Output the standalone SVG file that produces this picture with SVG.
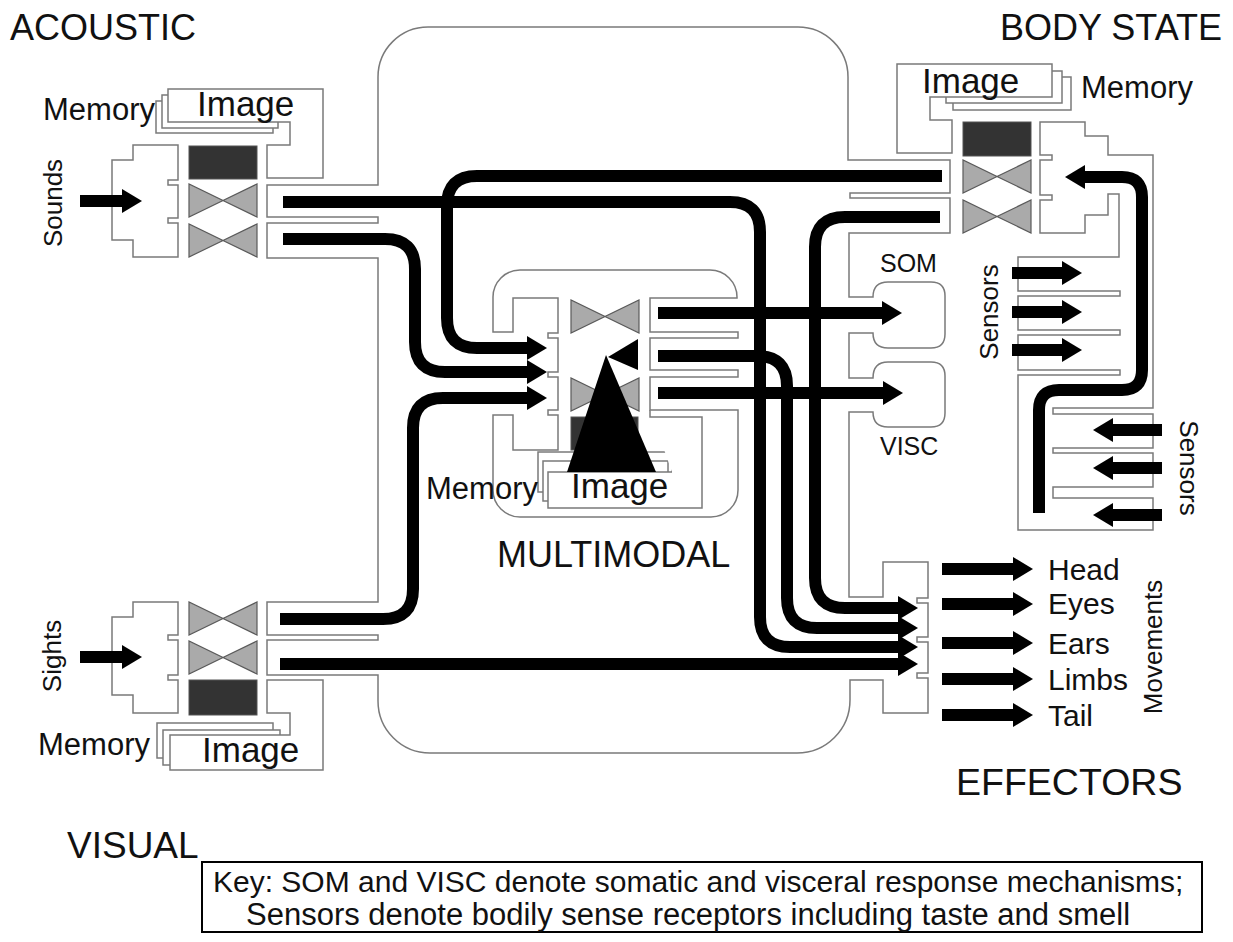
<svg xmlns="http://www.w3.org/2000/svg" width="1233" height="942" viewBox="0 0 1233 942">
<style>
.o{fill:#fff;stroke:#7a7a7a;stroke-width:1.5}
.bt{fill:#aaa;stroke:#5a5a5a;stroke-width:1.2}
.dk{fill:#333;stroke:#555;stroke-width:1}
.w{fill:none;stroke:#000;stroke-width:12;marker-end:url(#ah)}
.t{font-family:"Liberation Sans",Arial,sans-serif;fill:#111}
.big{font-size:36px}
.mem{font-size:31px}
.img{font-size:35px}
.lab{font-size:30px}
.sm{font-size:25px}
.rot{font-size:26px;text-anchor:middle}
</style>
<defs>
<marker id="ah" viewBox="0 0 20 24" refX="1" refY="12" markerWidth="20" markerHeight="24" markerUnits="userSpaceOnUse" orient="auto"><path d="M0,0 L20,12 L0,24 Z" fill="#000"/></marker>
<g id="bowtie"><path class="bt" d="M0,0 L0,33 L34,16.5 Z"/><path class="bt" d="M68,0 L68,33 L34,16.5 Z"/></g>
</defs>
<rect width="1233" height="942" fill="#fff"/>

<g id="outline">
<path class="o" d="M378,185 V77 A50,50 0 0 1 428,27 H798 A50,50 0 0 1 848,77 V160 H950 V193 H850 V198 H950 V233 H849 V297 H873 Q873,282 888,282 H931 Q945,282 945,296 V334 Q945,348 931,348 H888 Q873,348 873,333 H849 V378 H873 Q873,362 888,362 H931 Q945,362 945,376 V413 Q945,427 931,427 H888 Q873,427 873,412 H849 V597 H883 V562 H928 V598 H917 V603 H928 V637 H917 V642 H928 V673 H917 V678 H928 V713 H883 V680 H850 V700 A53,53 0 0 1 797,753 H430 A52,52 0 0 1 378,701 V675 H267 V640 H378 V635 H267 V602 H378 V258 H267 V223 H378 V217 H267 V185 Z"/>
<text class="t sm" x="880" y="272">SOM</text>
<text class="t sm" x="880" y="455">VISC</text>
</g>

<g id="acoustic">
<path class="o" d="M133,145 H178 V180 H168 V185 H178 V218 H168 V223 H178 V257 H133 V240 H112 V160 H133 Z"/>
<rect class="dk" x="189" y="146" width="68" height="33"/>
<use href="#bowtie" x="189" y="184"/>
<use href="#bowtie" x="189" y="224"/>
<rect class="o" x="156" y="101" width="117" height="32"/>
<rect class="o" x="162" y="95" width="116" height="33"/>
<path class="o" d="M168,89 H323 V178 H267 V145 H290 V122 H168 Z"/>
<text class="t img" x="197" y="116">Image</text>
<text class="t mem" x="155" y="120" text-anchor="end">Memory</text>
<text class="t rot" transform="translate(62,203) rotate(-90)">Sounds</text>
<text class="t big" x="10" y="40">ACOUSTIC</text>
</g>

<g id="visual">
<path class="o" d="M133,602 H178 V635 H168 V640 H178 V675 H168 V680 H178 V713 H133 V695 H112 V617 H133 Z"/>
<use href="#bowtie" x="189" y="602"/>
<use href="#bowtie" x="189" y="641"/>
<rect class="dk" x="189" y="680" width="68" height="35"/>
<rect class="o" x="157" y="723" width="116" height="35"/>
<rect class="o" x="163" y="730" width="117" height="35"/>
<path class="o" d="M267,680 H323 V770 H170 V735 H290 V713 H267 Z"/>
<text class="t img" x="202" y="762">Image</text>
<text class="t mem" x="150" y="755" text-anchor="end">Memory</text>
<text class="t rot" transform="translate(61,656) rotate(-90)">Sights</text>
<text class="t big" x="67" y="858" style="font-size:37px">VISUAL</text>
</g>

<g id="bodystate">
<rect class="o" x="953" y="77" width="118" height="33"/>
<rect class="o" x="946" y="71" width="116" height="32"/>
<path class="o" d="M897,64 H1052 V97 H930 V120 H952 V153 H897 Z"/>
<rect class="dk" x="963" y="122" width="68" height="34"/>
<use href="#bowtie" x="963" y="160"/>
<use href="#bowtie" x="963" y="200"/>
<path class="o" d="M1040,122 H1085 V136 H1108 V155 H1153 V408 H1053 V414 H1153 V448 H1053 V453 H1153 V487 H1053 V498 H1153 V530 H1018 V375 H1120 V370 H1018 V335 H1120 V330 H1018 V296 H1120 V291 H1018 V257 H1119 V194 H1108 V215 H1085 V233 H1040 V200 H1052 V195 H1040 V160 H1052 V155 H1040 Z"/>
<text class="t img" x="922" y="93">Image</text>
<text class="t mem" x="1081" y="98">Memory</text>
<text class="t rot" transform="translate(998,312) rotate(-90)">Sensors</text>
<text class="t rot" transform="translate(1180,468) rotate(90)">Sensors</text>
<text class="t big" x="1222" y="40" text-anchor="end">BODY STATE</text>
</g>

<g id="multimodal">
<path class="o" d="M513,298 V332 H493 V297 A27,27 0 0 1 520,270 H710 A27,27 0 0 1 737,297 V298 H650 V332 H738 V338 H650 V370 H738 V377 H650 V410 H738 V490 A27,27 0 0 1 711,517 H520 A27,27 0 0 1 493,490 V415 H513 V450 H558 V415 H548 V410 H558 V377 H548 V372 H558 V338 H548 V333 H558 V298 Z"/>
<use href="#bowtie" x="571" y="300"/>
<use href="#bowtie" x="571" y="378"/>
<rect class="dk" x="571" y="417" width="67" height="33"/>
<rect class="o" x="538" y="452" width="134" height="40"/>
<rect class="o" x="543" y="461" width="125" height="40"/>
<path class="o" d="M650,410 V417 H702 V508 H548 V472 H672"/>
<path d="M638,339 L608,357 L638,370 Z" fill="#000"/>
<path d="M606,355 L567,472 L656,472 Z" fill="#000"/>
<text class="t img" x="571" y="498">Image</text>
<text class="t mem" x="538" y="499" text-anchor="end">Memory</text>
<text class="t big" x="497" y="567">MULTIMODAL</text>
</g>

<g id="effectors">
<text class="t lab" x="1048" y="580">Head</text>
<text class="t lab" x="1048" y="614">Eyes</text>
<text class="t lab" x="1048" y="654">Ears</text>
<text class="t lab" x="1048" y="690">Limbs</text>
<text class="t lab" x="1048" y="726">Tail</text>
<text class="t rot" transform="translate(1162,647) rotate(-90)">Movements</text>
<text class="t big" x="956" y="795" style="font-size:37.5px">EFFECTORS</text>
</g>

<g id="connectors">
<path class="w" d="M80,201 H123"/>
<path class="w" d="M80,657 H123"/>
<path class="w" d="M283,202 H730 Q760,202 760,232 V617 Q760,647 790,647 H899"/>
<path class="w" d="M283,239 H385 Q415,239 415,269 V342 Q415,372 445,372 H528"/>
<path class="w" d="M942,176 H477 Q447,176 447,206 V318 Q447,348 477,348 H528"/>
<path class="w" d="M280,619 H383 Q413,619 413,589 V428 Q413,398 443,398 H528"/>
<path class="w" d="M280,664 H899"/>
<path class="w" d="M940,217 H845 Q815,217 815,247 V578 Q815,608 845,608 H899"/>
<path class="w" d="M658,356 H757 Q787,356 787,386 V598 Q787,628 817,628 H899"/>
<path class="w" d="M658,313 H883"/>
<path class="w" d="M658,393 H884"/>
<path class="w" d="M1039,513 V410 Q1039,390 1059,390 H1122 Q1142,390 1142,370 V197 Q1142,177 1122,177 H1084"/>
<path class="w" d="M1012,273 H1063"/>
<path class="w" d="M1012,312 H1063"/>
<path class="w" d="M1012,350 H1063"/>
<path class="w" d="M1162,430 H1112"/>
<path class="w" d="M1162,468 H1112"/>
<path class="w" d="M1162,515 H1112"/>
<path class="w" d="M942,569 H1014"/>
<path class="w" d="M942,604 H1014"/>
<path class="w" d="M942,643 H1014"/>
<path class="w" d="M942,679 H1014"/>
<path class="w" d="M942,715 H1014"/>
</g>

<g id="key">
<rect x="202" y="862" width="1000" height="70" fill="none" stroke="#000" stroke-width="2"/>
<text class="t lab" x="213" y="892">Key: SOM and VISC denote somatic and visceral response mechanisms;</text>
<text class="t lab" x="246" y="925" style="font-size:31px">Sensors denote bodily sense receptors including taste and smell</text>
</g>
</svg>
